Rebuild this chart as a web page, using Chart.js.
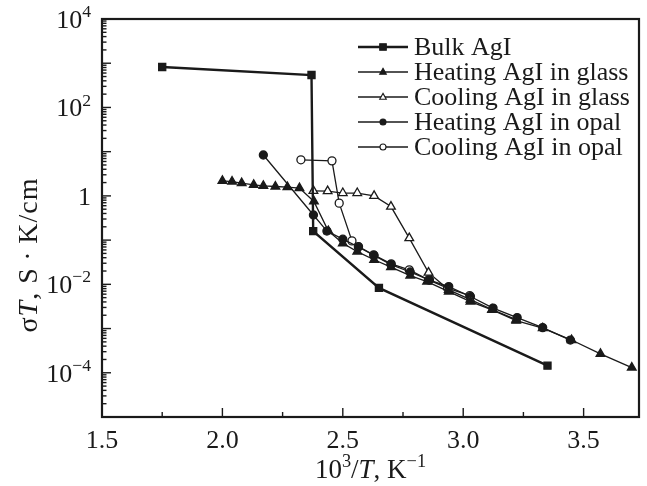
<!DOCTYPE html>
<html>
<head>
<meta charset="utf-8">
<script src="https://cdn.jsdelivr.net/npm/chart.js@4"></script>
<style>
  html, body { margin: 0; padding: 0; background: #fff; }
  #wrap { width: 647px; height: 486px; }
</style>
</head>
<body>
<div id="wrap"><canvas id="plot" width="647" height="486"></canvas></div>
<script>
// values (x = 10^3/T, y = sigma*T)
const bulkX = [1.75, 2.37, 2.377, 2.65, 3.35];
const bulkY = [820, 540, 0.16, 0.0083, 1.45e-4];

const heatGlassX = [2.0, 2.04, 2.08, 2.13, 2.17, 2.22, 2.27, 2.32, 2.38, 2.44, 2.50, 2.56, 2.63, 2.70, 2.78, 2.85, 2.94, 3.03, 3.12, 3.22, 3.33, 3.45, 3.57, 3.70];
const heatGlassY = [2.19, 2.11, 1.94, 1.78, 1.69, 1.63, 1.58, 1.50, 0.75, 0.16, 0.085, 0.055, 0.036, 0.0244, 0.0158, 0.01155, 0.00686, 0.00407, 0.00264, 0.00151, 0.00102, 5.5e-4, 2.67e-4, 1.31e-4];

const coolGlassX = [2.378, 2.437, 2.50, 2.56, 2.63, 2.70, 2.776, 2.856, 2.94, 3.03, 3.12, 3.22];
const coolGlassY = [1.30, 1.28, 1.16, 1.16, 1.0, 0.574, 0.111, 0.0184, 0.0075, 0.0045, 0.0027, 0.0016];

const heatOpalX = [2.17, 2.378, 2.434, 2.50, 2.565, 2.63, 2.70, 2.78, 2.86, 2.94, 3.03, 3.124, 3.224, 3.33, 3.445];
const heatOpalY = [8.4, 0.37, 0.16, 0.105, 0.07, 0.045, 0.028, 0.019, 0.0125, 0.0089, 0.0053, 0.0029, 0.00177, 0.00105, 5.5e-4];

const coolOpalX = [2.326, 2.455, 2.485, 2.538, 2.565, 2.628, 2.701, 2.776, 2.856, 2.935, 3.027];
const coolOpalY = [6.55, 6.2, 0.686, 0.096, 0.0715, 0.0464, 0.029, 0.0212, 0.0126, 0.0082, 0.00556];

const seriesNames = ['Bulk AgI', 'Heating AgI in glass', 'Cooling AgI in glass', 'Heating AgI in opal', 'Cooling AgI in opal'];
const xTickLabels = ['1.5', '2.0', '2.5', '3.0', '3.5'];
const yTickExps = [-4, -2, 0, 2, 4];

const FONT = "'Liberation Serif', 'Times New Roman', serif";
const INK = '#1a1a1a';

function pts(xs, ys) {
  return xs.map((v, i) => ({ x: v, y: ys[i] }));
}

function makeSet(label, xs, ys, style, filled, radius, width) {
  return {
    label: label,
    data: pts(xs, ys),
    borderColor: INK,
    borderWidth: width,
    backgroundColor: filled ? INK : '#fff',
    pointStyle: style,
    pointRadius: radius,
    pointBorderWidth: 1.3,
    pointBorderColor: INK,
    pointBackgroundColor: filled ? INK : '#fff',
    tension: 0,
    fill: false
  };
}

const datasets = [
  makeSet(seriesNames[0], bulkX, bulkY, 'rect', true, 5, 2.4),
  makeSet(seriesNames[1], heatGlassX, heatGlassY, 'triangle', true, 5, 1.3),
  makeSet(seriesNames[2], coolGlassX, coolGlassY, 'triangle', false, 5, 1.3),
  makeSet(seriesNames[3], heatOpalX, heatOpalY, 'circle', true, 4, 1.3),
  makeSet(seriesNames[4], coolOpalX, coolOpalY, 'circle', false, 4, 1.3)
];

// draws a run of text pieces; sup = superscript, it = italic
function richWidth(ctx, parts, size, gap) {
  let w = 0;
  parts.forEach(p => {
    const s = p.sup ? size * 0.68 : size;
    ctx.font = (p.it ? 'italic ' : '') + s + 'px ' + FONT;
    w += ctx.measureText(p.t).width + (gap || 0) * p.t.length;
  });
  return w;
}
function richText(ctx, parts, x, y, size, gap) {
  let cx = x;
  parts.forEach(p => {
    const s = p.sup ? size * 0.68 : size;
    ctx.font = (p.it ? 'italic ' : '') + s + 'px ' + FONT;
    ctx.textBaseline = 'alphabetic';
    ctx.textAlign = 'left';
    for (const ch of p.t) {
      ctx.fillText(ch, cx, p.sup ? y - size * 0.42 : y);
      cx += ctx.measureText(ch).width + (gap || 0);
    }
  });
}

function marker(ctx, style, filled, x, y, r) {
  ctx.beginPath();
  if (style === 'rect') {
    ctx.rect(x - r, y - r, 2 * r, 2 * r);
  } else if (style === 'triangle') {
    ctx.moveTo(x, y - r * 1.1);
    ctx.lineTo(x + r, y + r * 0.7);
    ctx.lineTo(x - r, y + r * 0.7);
    ctx.closePath();
  } else {
    ctx.arc(x, y, r, 0, Math.PI * 2);
  }
  ctx.fillStyle = filled ? INK : '#fff';
  ctx.fill();
  ctx.lineWidth = 1.1;
  ctx.strokeStyle = INK;
  ctx.stroke();
}

const decor = {
  id: 'decor',
  afterDraw(chart) {
    const ctx = chart.ctx;
    const a = chart.chartArea;
    const xs = chart.scales.x;
    const ys = chart.scales.y;
    ctx.save();
    ctx.strokeStyle = INK;
    ctx.fillStyle = INK;

    // frame
    ctx.lineWidth = 2.2;
    ctx.strokeRect(a.left, a.top, a.right - a.left, a.bottom - a.top);

    // y ticks, inward on left side
    ctx.lineWidth = 1.4;
    for (let e = -5; e <= 4; e++) {
      for (let m = 1; m <= 9; m++) {
        const v = m * Math.pow(10, e);
        if (v > 1e4 * 1.0001) continue;
        const py = ys.getPixelForValue(v);
        const len = m === 1 ? 9 : 4.5;
        ctx.beginPath();
        ctx.moveTo(a.left, py);
        ctx.lineTo(a.left + len, py);
        ctx.stroke();
      }
    }
    // x ticks, inward on bottom
    for (let v = 1.5; v <= 3.51; v += 0.25) {
      const px = xs.getPixelForValue(v);
      const major = Math.abs(v * 2 - Math.round(v * 2)) < 1e-6;
      ctx.beginPath();
      ctx.moveTo(px, a.bottom);
      ctx.lineTo(px, a.bottom - (major ? 9 : 5));
      ctx.stroke();
    }

    // x tick labels
    ctx.font = '26px ' + FONT;
    ctx.textAlign = 'center';
    ctx.textBaseline = 'alphabetic';
    xTickLabels.forEach(t => {
      ctx.fillText(t, xs.getPixelForValue(parseFloat(t)), a.bottom + 31);
    });

    // y tick labels
    yTickExps.forEach(e => {
      const py = ys.getPixelForValue(Math.pow(10, e));
      const parts = e === 0 ? [{ t: '1' }] : [{ t: '10' }, { t: e < 0 ? '\u2212' + (-e) : String(e), sup: true }];
      const w = richWidth(ctx, parts, 26);
      richText(ctx, parts, a.left - 11 - w, py + 9, 26);
    });

    // x axis title
    const xt = [{ t: '10' }, { t: '3', sup: true }, { t: '/' }, { t: 'T', it: true }, { t: ', K' }, { t: '\u22121', sup: true }];
    const xw = richWidth(ctx, xt, 27);
    richText(ctx, xt, (a.left + a.right) / 2 - xw / 2, 478, 27);

    // y axis title, rotated
    const yt = [{ t: '\u03c3' }, { t: 'T', it: true }, { t: ', S\u2009\u00b7\u2009K/cm' }];
    const yw = richWidth(ctx, yt, 28, 1);
    ctx.save();
    ctx.translate(37, 255);
    ctx.rotate(-Math.PI / 2);
    richText(ctx, yt, -yw / 2, 0, 28, 1);
    ctx.restore();

    // legend: line sample with marker, then name
    chart.data.datasets.forEach((d, i) => {
      const ly = 47 + i * 25;
      ctx.lineWidth = i === 0 ? 2.4 : 1.3;
      ctx.strokeStyle = INK;
      ctx.beginPath();
      ctx.moveTo(358, ly);
      ctx.lineTo(408, ly);
      ctx.stroke();
      marker(ctx, d.pointStyle, d.pointBackgroundColor === INK, 383, ly, d.pointStyle === 'circle' ? 3 : 3.3);
      ctx.fillStyle = INK;
      ctx.font = '26px ' + FONT;
      ctx.textAlign = 'left';
      ctx.textBaseline = 'middle';
      ctx.fillText(d.label, 414, ly + 1);
    });
    ctx.restore();
  }
};

new Chart(document.getElementById('plot'), {
  type: 'line',
  data: { datasets: datasets },
  options: {
    responsive: false,
    animation: false,
    layout: { padding: { left: 102, top: 19, right: 8, bottom: 69 } },
    plugins: { legend: { display: false }, tooltip: { enabled: false } },
    scales: {
      x: {
        type: 'linear',
        min: 1.5,
        max: 3.73,
        grid: { display: false, drawTicks: false },
        border: { display: false },
        ticks: { display: false }
      },
      y: {
        type: 'logarithmic',
        min: 1e-5,
        max: 1e4,
        grid: { display: false, drawTicks: false },
        border: { display: false },
        ticks: { display: false }
      }
    }
  },
  plugins: [decor]
});
</script>
</body>
</html>
